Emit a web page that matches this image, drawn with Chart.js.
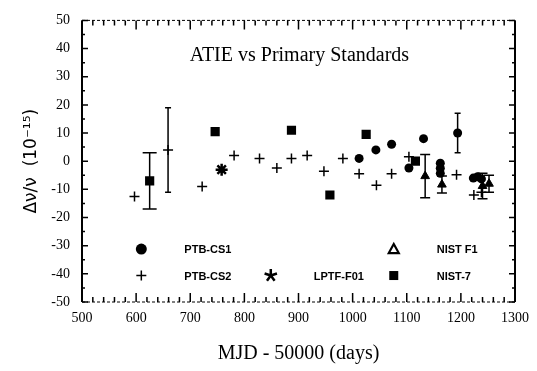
<!DOCTYPE html>
<html>
<head>
<meta charset="utf-8">
<script src="https://cdn.jsdelivr.net/npm/chart.js@4.4.0/dist/chart.umd.min.js"></script>
<style>
html, body { margin: 0; padding: 0; background: #fff; }
</style>
</head>
<body>
<canvas id="atie" width="537" height="371"></canvas>
<script>
// tick values
var xTickValues = [500, 600, 700, 800, 900, 1000, 1100, 1200, 1300];
var yTickValues = [-50, -40, -30, -20, -10, 0, 10, 20, 30, 40, 50];

// PTB-CS1 (circles)
var cs1X   = [1012, 1043, 1072, 1104, 1131, 1162, 1162, 1162, 1194, 1223, 1231, 1238];
var cs1Y   = [1, 4, 6, -2.4, 8, -0.7, -2.5, -4.3, 10, -6, -5.5, -6.3];
var cs1Err = [0, 0, 0, 0, 0, 0, 0, 0, 7, 0, 0, 0];

// PTB-CS2 (crosses)
var cs2X   = [597, 659, 722, 781, 828, 860, 887, 916, 947, 982, 1012, 1044, 1072, 1104, 1192, 1224, 1238];
var cs2Y   = [-12.5, 4, -9, 2, 1, -2.4, 1, 2, -3.6, 1, -4.5, -8.5, -4.5, 1.6, -4.8, -12, -11];
var cs2Err = [0, 15, 0, 0, 0, 0, 0, 0, 0, 0, 0, 0, 0, 0, 0, 0, 0];

// LPTF-F01 (star)
var lptfX = [758];
var lptfY = [-3];

// NIST F1 (triangles)
var f1X   = [1134, 1165, 1240, 1252];
var f1Y   = [-5.3, -8.3, -8.8, -8];
var f1Err = [7.7, 3, 4.5, 3];

// NIST-7 (squares)
var n7X   = [625, 746, 887, 958, 1025, 1116];
var n7Y   = [-7, 10.5, 11, -12, 9.5, 0];
var n7Err = [10, 0, 0, 0, 0, 0];

function pts(xs, ys, errs) {
    var out = [];
    for (var i = 0; i < xs.length; i++) {
        out.push({x: xs[i], y: ys[i], err: errs ? errs[i] : 0});
    }
    return out;
}

var legendRows = [
    {label: 'PTB-CS1', style: 'circle',   col: 0, row: 0},
    {label: 'PTB-CS2', style: 'cross',    col: 0, row: 1},
    {label: 'LPTF-F01', style: 'star',    col: 1, row: 1},
    {label: 'NIST F1', style: 'triangle', col: 2, row: 0},
    {label: 'NIST-7',  style: 'rect',     col: 2, row: 1}
];

function marker(ctx, style, x, y) {
    ctx.save();
    ctx.fillStyle = '#000';
    ctx.strokeStyle = '#000';
    ctx.beginPath();
    if (style == 'circle') {
        ctx.arc(x, y, 5.5, 0, Math.PI * 2);
        ctx.fill();
    } else if (style == 'rect') {
        ctx.fillRect(x - 4.5, y - 4.5, 9, 9);
    } else if (style == 'triangle') {
        ctx.lineWidth = 2.2;
        ctx.moveTo(x, y - 5); ctx.lineTo(x + 5, y + 4); ctx.lineTo(x - 5, y + 4); ctx.closePath();
        ctx.stroke();
    } else if (style == 'cross') {
        ctx.lineWidth = 1.5;
        ctx.moveTo(x - 5, y); ctx.lineTo(x + 5, y);
        ctx.moveTo(x, y - 5); ctx.lineTo(x, y + 5);
        ctx.stroke();
    } else if (style == 'star') {
        ctx.lineWidth = 2.5;
        for (var k = 0; k < 5; k++) {
            var a = -Math.PI / 2 + k * 2 * Math.PI / 5;
            ctx.moveTo(x, y);
            ctx.lineTo(x + 6.5 * Math.cos(a), y + 6.5 * Math.sin(a));
        }
        ctx.stroke();
    }
    ctx.restore();
}

var framePlugin = {
    id: 'frame',
    beforeDatasetsDraw: function(chart) {
        var ctx = chart.ctx;
        var xs = chart.scales.x, ys = chart.scales.y;
        ctx.save();
        ctx.strokeStyle = '#000';
        ctx.lineWidth = 1.5;
        chart.data.datasets.forEach(function(ds) {
            ds.data.forEach(function(p) {
                if (!p.err) return;
                var px = xs.getPixelForValue(p.x);
                var top = ys.getPixelForValue(p.y + p.err);
                var bot = ys.getPixelForValue(p.y - p.err);
                var cw = ds.capW || 3;
                ctx.beginPath();
                ctx.moveTo(px, top); ctx.lineTo(px, bot);
                ctx.moveTo(px - cw, top); ctx.lineTo(px + cw, top);
                ctx.moveTo(px - cw, bot); ctx.lineTo(px + cw, bot);
                ctx.stroke();
            });
        });
        ctx.restore();
    },
    afterDatasetsDraw: function(chart) {
        var ctx = chart.ctx;
        var a = chart.chartArea;
        var xs = chart.scales.x, ys = chart.scales.y;
        ctx.save();
        ctx.strokeStyle = '#000';

        // frame
        ctx.lineWidth = 2;
        ctx.beginPath();
        ctx.moveTo(a.left, a.top); ctx.lineTo(a.left, a.bottom);
        ctx.moveTo(a.right, a.top); ctx.lineTo(a.right, a.bottom);
        ctx.stroke();
        ctx.lineWidth = 1;
        ctx.setLineDash([3, 2]);
        ctx.beginPath();
        ctx.moveTo(a.left, a.top); ctx.lineTo(a.right, a.top);
        ctx.moveTo(a.left, a.bottom); ctx.lineTo(a.right, a.bottom);
        ctx.stroke();
        ctx.setLineDash([]);

        // inward ticks
        ctx.lineWidth = 1.5;
        ctx.beginPath();
        for (var v = 500; v <= 1300; v += 20) {
            var px = xs.getPixelForValue(v);
            var len = (v % 100 == 0) ? 9 : 5;
            ctx.moveTo(px, a.bottom); ctx.lineTo(px, a.bottom - len);
            ctx.moveTo(px, a.top); ctx.lineTo(px, a.top + len);
        }
        for (var w = -50; w <= 50; w += 5) {
            var py = ys.getPixelForValue(w);
            var l2 = (w % 10 == 0) ? 6 : 3;
            ctx.moveTo(a.left, py); ctx.lineTo(a.left + l2, py);
            ctx.moveTo(a.right, py); ctx.lineTo(a.right - l2, py);
        }
        ctx.stroke();

        // title in plot
        ctx.fillStyle = '#000';
        ctx.font = '20px "Liberation Serif"';
        ctx.textAlign = 'center';
        ctx.textBaseline = 'middle';
        ctx.fillText('ATIE vs Primary Standards', a.left + a.width * 0.502, a.top + a.height * 0.125);

        // legend
        var colX = [0.137, 0.436, 0.72];
        var rowY = [0.812, 0.906];
        ctx.font = 'bold 11px "Liberation Sans"';
        ctx.textAlign = 'left';
        legendRows.forEach(function(it) {
            var mx = a.left + a.width * colX[it.col];
            var my = a.top + a.height * rowY[it.row];
            marker(ctx, it.style, mx, my);
            ctx.fillText(it.label, mx + 43, my + 1);
        });
        ctx.restore();
    }
};

var ctx = document.getElementById('atie').getContext('2d');
var chart = new Chart(ctx, {
    type: 'scatter',
    data: {
        datasets: [{
            label: 'PTB-CS1',
            data: pts(cs1X, cs1Y, cs1Err),
            pointStyle: 'circle',
            pointRadius: 4.5,
            backgroundColor: '#000',
            borderColor: '#000',
            borderWidth: 0,
            capW: 3
        }, {
            label: 'PTB-CS2',
            data: pts(cs2X, cs2Y, cs2Err),
            pointStyle: 'cross',
            pointRadius: 5,
            borderColor: '#000',
            borderWidth: 1.5,
            capW: 3
        }, {
            label: 'LPTF-F01',
            data: pts(lptfX, lptfY),
            pointStyle: 'star',
            pointRadius: 6,
            borderColor: '#000',
            borderWidth: 2.5
        }, {
            label: 'NIST F1',
            data: pts(f1X, f1Y, f1Err),
            pointStyle: 'triangle',
            pointRadius: 5,
            backgroundColor: '#000',
            borderColor: '#000',
            borderWidth: 1,
            capW: 5
        }, {
            label: 'NIST-7',
            data: pts(n7X, n7Y, n7Err),
            pointStyle: 'rect',
            pointRadius: 6.5,
            backgroundColor: '#000',
            borderColor: '#000',
            borderWidth: 0,
            capW: 7
        }]
    },
    options: {
        responsive: false,
        animation: false,
        layout: { padding: { top: 15, right: 17, left: 0, bottom: 0 } },
        plugins: {
            legend: { display: false },
            tooltip: { enabled: false }
        },
        scales: {
            x: {
                type: 'linear',
                min: 500,
                max: 1300,
                afterBuildTicks: function(s) { s.ticks = xTickValues.map(function(v) { return {value: v}; }); },
                afterFit: function(s) { s.height = 69; },
                grid: { display: false, drawTicks: false },
                border: { display: false },
                ticks: {
                    color: '#000',
                    padding: 8,
                    maxRotation: 0,
                    callback: function(v) { return String(v); },
                    font: { family: 'Liberation Serif', size: 14 }
                },
                title: {
                    display: true,
                    text: 'MJD - 50000 (days)',
                    color: '#000',
                    font: { family: 'Liberation Serif', size: 20 },
                    padding: { top: 0, bottom: 5 }
                }
            },
            y: {
                type: 'linear',
                min: -50,
                max: 50,
                afterBuildTicks: function(s) { s.ticks = yTickValues.map(function(v) { return {value: v}; }); },
                afterFit: function(s) { s.width = 82; },
                grid: { display: false, drawTicks: false },
                border: { display: false },
                ticks: {
                    color: '#000',
                    padding: 12,
                    callback: function(v) { return String(v); },
                    font: { family: 'Liberation Serif', size: 14 }
                },
                title: {
                    display: true,
                    text: 'Δν/ν  (10⁻¹⁵)',
                    color: '#000',
                    font: { family: 'DejaVu Sans', size: 17 },
                    padding: { top: 21, bottom: 0 }
                }
            }
        }
    },
    plugins: [framePlugin]
});
</script>
</body>
</html>
